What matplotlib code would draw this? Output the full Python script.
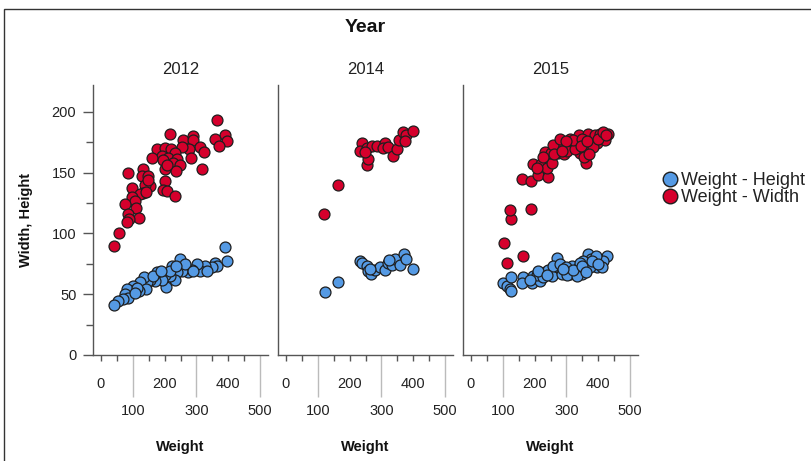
import matplotlib
matplotlib.use("Agg")
import matplotlib.pyplot as plt
from matplotlib.lines import Line2D
from matplotlib.patches import Rectangle

plt.rcParams['font.family'] = ['Liberation Sans', 'DejaVu Sans']

years = ["2012", "2014", "2015"]

# 2012
weight_w_2012 = [364, 217, 390, 358, 395, 372, 257, 288, 290, 311, 325, 278, 254, 282, 319, 175, 201, 219,
                 233, 191, 159, 212, 238, 227, 248, 196, 201, 236, 206, 133, 84, 128, 149, 154, 138, 201,
                 194, 209, 233, 96, 133, 123, 96, 107, 76, 110, 86, 121, 89, 81, 57, 42, 140, 149]
width_2012 = [193, 182, 181, 178, 176, 172, 177, 180, 177, 171, 167, 169, 171, 162, 153, 169, 170, 169,
              166, 164, 162, 162, 161, 158, 156, 160, 153, 151, 156, 153, 150, 147, 147, 139, 140, 143,
              136, 135, 131, 137, 133, 132, 130, 127, 124, 121, 116, 113, 112, 109, 100, 90, 134, 144]
weight_h_2012 = [390, 395, 358, 366, 348, 327, 311, 301, 285, 275, 248, 254, 238, 222, 233, 217, 201, 204,
                 191, 175, 170, 154, 144, 135, 123, 140, 118, 102, 96, 83, 76, 86, 70, 55, 41, 264, 290,
                 217, 165, 112, 188, 236, 332, 107]
height_2012 = [89, 77, 76, 73, 72, 73, 69, 75, 70, 68, 79, 69, 68, 73, 62, 65, 66, 56, 62, 68, 61, 62,
               60, 64, 60, 54, 53, 57, 53, 54, 50, 47, 46, 44, 41, 75, 69, 69, 65, 55, 69, 73, 69, 51]

# 2014
weight_w_2014 = [120, 165, 256, 259, 238, 233, 254, 269, 287, 311, 306, 322, 335, 350, 356, 369, 377, 374,
                 400, 248]
width_2014 = [116, 140, 156, 161, 174, 168, 170, 172, 172, 174, 170, 171, 164, 169, 177, 183, 181, 176,
              184, 167]
weight_h_2014 = [123, 165, 233, 238, 254, 259, 266, 280, 296, 311, 322, 332, 343, 357, 371, 377, 400, 325,
                 264]
height_2014 = [52, 60, 77, 76, 73, 69, 67, 70, 72, 70, 76, 74, 79, 74, 83, 79, 71, 78, 71]

# 2015
weight_w_2015 = [104, 112, 125, 123, 190, 161, 188, 212, 243, 194, 219, 238, 256, 233, 250, 269, 275, 292,
                 296, 311, 317, 332, 338, 343, 358, 362, 355, 369, 374, 390, 395, 411, 421, 432, 301, 327,
                 280, 259, 322, 385, 406, 348, 227, 206, 163, 280, 300, 345, 365, 400, 415, 425, 370, 260,
                 285]
width_2015 = [92, 76, 112, 119, 120, 145, 143, 148, 146, 157, 157, 154, 158, 167, 166, 173, 166, 165,
              171, 178, 172, 175, 181, 166, 169, 158, 163, 182, 175, 181, 174, 180, 177, 182, 168, 169,
              172, 173, 177, 171, 182, 178, 163, 154, 81, 178, 176, 172, 176, 178, 183, 181, 165, 165,
              168]
weight_h_2015 = [102, 112, 125, 123, 125, 165, 161, 191, 196, 217, 233, 243, 254, 269, 275, 285, 296, 311,
                 317, 327, 338, 348, 358, 364, 369, 376, 387, 395, 406, 427, 416, 206, 227, 259, 301, 332,
                 353, 184, 212, 280, 374, 343, 393, 411, 300, 320, 350, 380, 400, 240, 290, 360]
height_2015 = [59, 57, 64, 54, 53, 64, 59, 59, 65, 61, 68, 70, 65, 80, 72, 67, 70, 67, 73, 69, 72, 67,
               70, 75, 83, 79, 75, 72, 76, 81, 77, 66, 64, 73, 66, 65, 77, 62, 69, 75, 72, 76, 81, 72,
               72, 70, 73, 77, 75, 66, 71, 68]

panels = [
    (weight_h_2012, height_2012, weight_w_2012, width_2012),
    (weight_h_2014, height_2014, weight_w_2014, width_2014),
    (weight_h_2015, height_2015, weight_w_2015, width_2015),
]

blue = "#559AE4"
red = "#D5002C"
edge = "#1e1e1e"
axis_col = "#555555"

W, H = 811, 461
fig = plt.figure(figsize=(W / 100, H / 100), dpi=100)

for i, (wh, hh, ww, wd) in enumerate(panels):
    left = 93 + 185 * i
    ax = fig.add_axes([left / W, 1 - 355 / H, 175 / W, 270 / H])
    ax.scatter(wh, hh, s=62, color=blue, edgecolors=edge, linewidths=0.9, zorder=3)
    ax.scatter(ww, wd, s=62, color=red, edgecolors=edge, linewidths=0.9, zorder=3)
    ax.set_xlim(-25, 525)
    ax.set_ylim(0, 222)
    for s in ["top", "right"]:
        ax.spines[s].set_visible(False)
    for s in ["left", "bottom"]:
        ax.spines[s].set_color(axis_col)
        ax.spines[s].set_linewidth(1.0)

    # two-row x labels: even hundreds close, odd hundreds on long ticks
    ax.set_xticks([0, 200, 400])
    ax.set_xticks([100, 300, 500], minor=True)
    ax.set_xticklabels(["0", "200", "400"])
    ax.set_xticklabels(["100", "300", "500"], minor=True)
    ax.tick_params(axis="x", which="major", length=4, width=1, color=axis_col,
                   labelsize=10.5, labelcolor="#222222", pad=11.5)
    ax.tick_params(axis="x", which="minor", length=30, width=1, color="#bbbbbb",
                   labelsize=10.5, labelcolor="#222222", pad=5.5)
    sec = ax.secondary_xaxis("bottom")
    sec.set_xticks([50, 150, 250, 350, 450])
    sec.tick_params(length=4, width=1, color=axis_col, labelbottom=False)
    sec.spines["bottom"].set_visible(False)

    if i == 0:
        ax.set_yticks([0, 50, 100, 150, 200])
        ax.set_yticks([25, 75, 125, 175], minor=True)
        ax.tick_params(axis="y", which="major", length=7, width=1, color=axis_col,
                       labelsize=10.5, labelcolor="#222222", pad=5)
        ax.tick_params(axis="y", which="minor", length=5, width=1, color=axis_col)
    else:
        ax.set_yticks([])
        ax.tick_params(axis="y", which="both", length=0)

    cx = (left + 87.5) / W
    fig.text(cx, 1 - 70 / H, years[i], ha="center", va="center", fontsize=12, color="#222222")
    fig.text(cx, 1 - 447 / H, "Weight", ha="center", va="center", fontsize=10.5,
             fontweight="bold", color="#111111")

fig.text(365.5 / W, 1 - 28 / H, "Year", ha="center", va="center", fontsize=14,
         fontweight="bold", color="#111111")
fig.text(26 / W, 1 - 220 / H, "Width, Height", ha="center", va="center", rotation=90,
         fontsize=10.5, fontweight="bold", color="#111111")

handles = [
    Line2D([], [], marker="o", linestyle="none", markersize=10.5, markerfacecolor=blue,
           markeredgecolor=edge, markeredgewidth=1),
    Line2D([], [], marker="o", linestyle="none", markersize=10.5, markerfacecolor=red,
           markeredgecolor=edge, markeredgewidth=1),
]
fig.legend(handles, ["Weight - Height", "Weight - Width"], loc="center left",
           bbox_to_anchor=(664 / W, 1 - 189 / H), frameon=False, fontsize=13,
           handlelength=0.7, handletextpad=0.25, labelspacing=0.02, borderpad=0,
           borderaxespad=0, labelcolor="#222222")

# outer frame, running off the right and bottom edges
fig.add_artist(Rectangle((4 / W, -0.05), 1.0, 1.05 - 9 / H, transform=fig.transFigure,
                         fill=False, edgecolor="#333333", linewidth=1))

fig.savefig("out.png", dpi=100)
